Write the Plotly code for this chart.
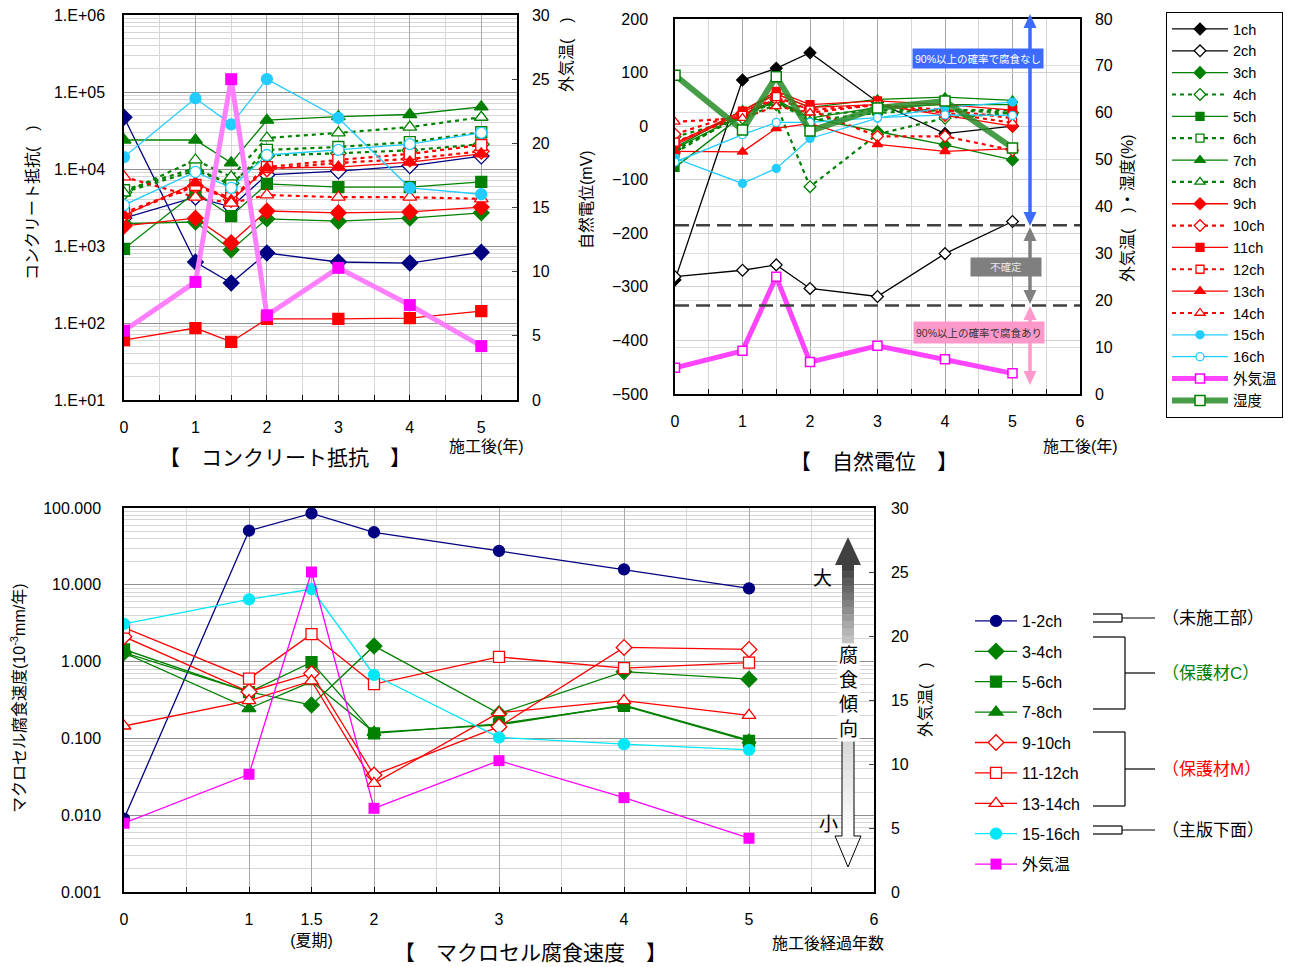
import plotly.graph_objects as go

OFF = 8  # page body margin of the html page
W, H = 1302 - OFF, 967 - OFF
def px(x): return (x - OFF) / W
def py(y): return 1 - (y - OFF) / H

# ---------------- data ----------------
years = [0, 1, 1.5, 2, 3, 4, 5]
ch_names = ["1ch", "2ch", "3ch", "4ch", "5ch", "6ch", "7ch", "8ch",
            "9ch", "10ch", "11ch", "12ch", "13ch", "14ch", "15ch", "16ch"]

# concrete resistance
cr_1ch = [47000, 620, 330, 810, 620, 600, 830]
cr_2ch = [2300, 4300, 3200, 8400, 9400, 11000, 14700]
cr_3ch = [1950, 2050, 890, 2250, 2100, 2300, 2700]
cr_4ch = [5000, 9500, 6500, 15000, 16000, 17500, 21000]
cr_5ch = [920, 5000, 2450, 6400, 5800, 5800, 6800]
cr_6ch = [5300, 10300, 6200, 17700, 19300, 22400, 30000]
cr_7ch = [23800, 23800, 12000, 43000, 48000, 51000, 64000]
cr_8ch = [4900, 13100, 7900, 25300, 29400, 35000, 47000]
cr_9ch = [1820, 2300, 1100, 2850, 2700, 2770, 3200]
cr_10ch = [2600, 6000, 4000, 10000, 12000, 13500, 17000]
cr_11ch = [60, 86, 57, 113, 113, 116, 143]
cr_12ch = [2700, 6200, 4200, 10600, 13100, 15700, 20500]
cr_13ch = [2500, 6600, 3900, 10300, 10600, 12300, 15700]
cr_14ch = [7900, 4300, 3600, 4600, 4300, 4300, 4100]
cr_15ch = [14300, 83000, 38000, 147000, 46000, 5700, 4700]
cr_16ch = [3400, 9150, 5700, 15200, 17700, 21000, 29400]
cr_temp = [5.4, 9.2, 25.0, 6.6, 10.3, 7.4, 4.2]

# half-cell potential (mV)
hp_1ch = [-287, 86, 108, 137, 45, -14, 0]
hp_2ch = [-281, -269, -259, -303, -318, -238, -178]
hp_3ch = [-42, 22, 45, 15, -10, -35, -63]
hp_4ch = [-20, 15, 40, -113, -15, 15, 25]
hp_5ch = [-77, 20, 50, 15, 35, 40, 40]
hp_6ch = [-50, 25, 45, 20, 30, 30, 30]
hp_7ch = [-40, 30, 60, 35, 50, 54, 48]
hp_8ch = [-45, 20, 45, 10, 25, 30, 25]
hp_9ch = [-35, 25, 60, 35, 40, 20, 0]
hp_10ch = [-15, 25, 50, 30, -19, -19, -45]
hp_11ch = [-32, 28, 65, 40, 47, 40, 30]
hp_12ch = [-30, 20, 55, 30, 40, 30, 15]
hp_13ch = [-47, -48, -4, 5, -34, -47, -42]
hp_14ch = [8, 15, 37, 25, 40, 25, 6]
hp_15ch = [-60, -107, -79, -23, 15, 35, 45]
hp_16ch = [-67, -16, 7, 7, 16, 21, 20]
hp_temp = [5.6, 9.2, 25.0, 6.8, 10.3, 7.4, 4.4]
hp_humid = [68, 56.3, 67.7, 56.1, 61, 62.5, 52.5]
hp_thresholds = [-185, -335]

# macrocell corrosion rate (10^-3 mm/year)
mc_names = ["1-2ch", "3-4ch", "5-6ch", "7-8ch", "9-10ch", "11-12ch", "13-14ch", "15-16ch"]
mc_1_2 = [0.009, 50.6, 85, 48.3, 27.6, 15.9, 9.0]
mc_3_4 = [1.31, 0.405, 0.272, 1.60, 0.21, 0.74, 0.59]
mc_5_6 = [1.44, 0.40, 0.98, 0.116, 0.155, 0.265, 0.0925]
mc_7_8 = [1.30, 0.245, 0.55, 0.12, 0.15, 0.27, 0.095]
mc_9_10 = [2.11, 0.405, 0.70, 0.0334, 0.142, 1.53, 1.44]
mc_11_12 = [2.77, 0.60, 2.28, 0.51, 1.15, 0.82, 0.97]
mc_13_14 = [0.145, 0.31, 0.56, 0.026, 0.216, 0.31, 0.20]
mc_15_16 = [3.09, 6.46, 8.8, 0.67, 0.103, 0.084, 0.071]
mc_temp = [5.37, 9.2, 25.0, 6.54, 10.26, 7.37, 4.2]
mc_ticks = [0, 1, 1.5, 2, 3, 4, 5, 6]
mc_ticktext = ["0", "1", "1.5<br>(夏期)", "2", "3", "4", "5", "6"]

# ---------------- styles ----------------
FONT = "Arial, 'Liberation Sans', 'Noto Sans CJK JP', sans-serif"
NAVY, GREEN, RED, CYAN, BLACK = "#000080", "#008000", "#FF0000", "#22CCFF", "#000000"
SYM = ["diamond", "diamond", "diamond", "diamond", "square", "square", "triangle-up", "triangle-up",
       "diamond", "diamond", "square", "square", "triangle-up", "triangle-up", "circle", "circle"]
FILLED = [True, False] * 8
DOTTED = [False, False, False, True, False, True, False, True,
          False, True, False, True, False, True, False, False]
COL_TL = [NAVY, NAVY] + [GREEN] * 6 + [RED] * 6 + [CYAN, CYAN]
COL_TR = [BLACK, BLACK] + [GREEN] * 6 + [RED] * 6 + [CYAN, CYAN]

fig = go.Figure()

def ch_trace(x, y, i, color, xa, ya, size, showlegend):
    sym = SYM[i]
    s = size + (1 if sym in ("diamond", "triangle-up") else 0)
    marker = dict(symbol=sym, size=s, color=color if FILLED[i] else "white",
                  line=dict(color=color, width=1.3))
    if DOTTED[i]:
        line = dict(color=color, width=2.2, dash="4px,4px")
    else:
        line = dict(color=color, width=1.3)
    return go.Scatter(x=x, y=y, mode="lines+markers", name=ch_names[i], marker=marker, line=line,
                      xaxis=xa, yaxis=ya, showlegend=showlegend,
                      legend="legend" if showlegend else None)

# ---- top-left: concrete resistance
cr_series = [cr_1ch, cr_2ch, cr_3ch, cr_4ch, cr_5ch, cr_6ch, cr_7ch, cr_8ch,
             cr_9ch, cr_10ch, cr_11ch, cr_12ch, cr_13ch, cr_14ch, cr_15ch, cr_16ch]
for i, s in enumerate(cr_series):
    fig.add_trace(ch_trace(years, s, i, COL_TL[i], "x", "y", 11, False))
fig.add_trace(go.Scatter(x=years, y=cr_temp, mode="lines+markers", name="外気温",
                         line=dict(color="#FF80FF", width=5),
                         marker=dict(symbol="square", size=12, color="#FF00FF"),
                         xaxis="x", yaxis="y2", showlegend=False))

# ---- top-right: half-cell potential
hp_series = [hp_1ch, hp_2ch, hp_3ch, hp_4ch, hp_5ch, hp_6ch, hp_7ch, hp_8ch,
             hp_9ch, hp_10ch, hp_11ch, hp_12ch, hp_13ch, hp_14ch, hp_15ch, hp_16ch]
for i, s in enumerate(hp_series):
    fig.add_trace(ch_trace(years, s, i, COL_TR[i], "x2", "y3", 8, True))
fig.add_trace(go.Scatter(x=years, y=hp_temp, mode="lines+markers", name="外気温",
                         line=dict(color="#FF44FF", width=5),
                         marker=dict(symbol="square", size=9, color="white",
                                     line=dict(color="#FF00FF", width=1.5)),
                         xaxis="x2", yaxis="y4", legend="legend"))
fig.add_trace(go.Scatter(x=years, y=hp_humid, mode="lines+markers", name="湿度",
                         line=dict(color="rgba(40,140,40,0.85)", width=6),
                         marker=dict(symbol="square", size=10, color="white",
                                     line=dict(color=GREEN, width=1.5)),
                         xaxis="x2", yaxis="y4", legend="legend"))

# ---- bottom: macrocell corrosion rate
mc_series = [mc_1_2, mc_3_4, mc_5_6, mc_7_8, mc_9_10, mc_11_12, mc_13_14, mc_15_16]
MC_COL = [NAVY, GREEN, GREEN, GREEN, RED, RED, RED, "#00E8F8"]
MC_SYM = ["circle", "diamond", "square", "triangle-up", "diamond", "square", "triangle-up", "circle"]
MC_FILL = [True, True, True, True, False, False, False, True]
for i, s in enumerate(mc_series):
    c = MC_COL[i]
    sz = 12 if MC_SYM[i] in ("diamond", "triangle-up") else 11
    fig.add_trace(go.Scatter(x=years, y=s, mode="lines+markers", name=mc_names[i],
                             line=dict(color=c, width=1.3),
                             marker=dict(symbol=MC_SYM[i], size=sz,
                                         color=c if MC_FILL[i] else "white",
                                         line=dict(color=c, width=1.3)),
                             xaxis="x3", yaxis="y5", legend="legend2", legendgroup="m%d" % i))
fig.add_trace(go.Scatter(x=years, y=mc_temp, mode="lines+markers", name="外気温",
                         line=dict(color="#FF00FF", width=1.3),
                         marker=dict(symbol="square", size=11, color="#FF00FF"),
                         xaxis="x3", yaxis="y6", legend="legend2", legendgroup="m8"))

# ---------------- axes ----------------
tickf = dict(family=FONT, size=16, color="#000")
GRID_MAJ = "#a8a8a8"
GRID_MIN = "#d6d6d6"
def xax(domain, rng, anchor, **kw):
    d = dict(domain=domain, range=rng, anchor=anchor, showline=True, linecolor="black",
             linewidth=1.5, mirror=True, ticks="inside", ticklen=5, tickcolor="black",
             tickfont=tickf, showgrid=True, gridcolor=GRID_MAJ, gridwidth=1,
             minor=dict(dtick=0.5, showgrid=True, gridcolor=GRID_MIN, ticks="inside",
                        ticklen=5, tickcolor="black"),
             zeroline=False, ticklabelstandoff=12, ticklabeloverflow="allow")
    d.update(kw)
    return d

def yax(**kw):
    d = dict(tickfont=tickf, showline=True, linecolor="black", linewidth=1.5,
             zeroline=False, ticklabeloverflow="allow")
    d.update(kw)
    return d

layout = dict(
    width=W, height=H, margin=dict(l=0, r=0, t=0, b=0, autoexpand=False),
    paper_bgcolor="white", plot_bgcolor="white",
    font=dict(family=FONT, size=16, color="#000"),
    xaxis=xax([px(124), px(517)], [0, 5.5], "y", tick0=0, dtick=1),
    yaxis=yax(domain=[py(400), py(15)], type="log", range=[1, 6], anchor="x",
              tickvals=[10, 100, 1000, 1e4, 1e5, 1e6],
              ticktext=["1.E+01", "1.E+02", "1.E+03", "1.E+04", "1.E+05", "1.E+06"],
              showgrid=True, gridcolor="#909090",
              minor=dict(dtick="D1", showgrid=True, gridcolor=GRID_MIN),
              ticks="", ticklabelstandoff=14),
    yaxis2=yax(overlaying="y", side="right", range=[0, 30], dtick=5, anchor="x",
               showgrid=False, ticks="inside", ticklen=5, ticklabelstandoff=10),
    xaxis2=xax([px(675), px(1080)], [0, 6], "y3", tick0=0, dtick=1),
    yaxis3=yax(domain=[py(394), py(19)], range=[-500, 200], dtick=100, anchor="x2",
               showgrid=True, gridcolor="#cfcfcf", ticks="", ticklabelstandoff=22),
    yaxis4=yax(overlaying="y3", side="right", range=[0, 80], dtick=10, anchor="x2",
               showgrid=True, gridcolor="#dedede", ticks="", ticklabelstandoff=10),
    xaxis3=xax([px(124), px(874)], [0, 6], "y5", tickmode="array", tickvals=mc_ticks,
               ticktext=mc_ticktext),
    yaxis5=yax(domain=[py(892), py(508)], type="log", range=[-3, 2], anchor="x3",
               tickvals=[0.001, 0.01, 0.1, 1, 10, 100],
               ticktext=["0.001", "0.010", "0.100", "1.000", "10.000", "100.000"],
               showgrid=True, gridcolor="#909090",
               minor=dict(dtick="D1", showgrid=True, gridcolor=GRID_MIN),
               ticks="", ticklabelstandoff=18),
    yaxis6=yax(overlaying="y5", side="right", range=[0, 30], dtick=5, anchor="x3",
               showgrid=False, ticks="inside", ticklen=5, ticklabelstandoff=12),
    legend=dict(x=px(1166), y=py(12), xanchor="left", yanchor="top",
                bgcolor="white", bordercolor="black", borderwidth=1,
                font=dict(family=FONT, size=14.5), itemwidth=56, traceorder="normal",
                itemclick=False),
    legend2=dict(x=px(970), y=py(604), xanchor="left", yanchor="top",
                 bgcolor="rgba(0,0,0,0)", borderwidth=0,
                 font=dict(family=FONT, size=16), itemwidth=42, traceorder="grouped",
                 tracegroupgap=6.6, itemclick=False),
)
fig.update_layout(**layout)

# ---------------- shapes ----------------
shapes = []
for t in hp_thresholds:
    shapes.append(dict(type="line", xref="x2", yref="y3", x0=0, x1=6, y0=t, y1=t,
                       line=dict(color="#404040", width=2.5, dash="14px,7px")))

def pline(x0, y0, x1, y1, color="black", width=1.2):
    return dict(type="line", xref="paper", yref="paper", x0=px(x0), y0=py(y0),
                x1=px(x1), y1=py(y1), line=dict(color=color, width=width))

def ppath(pts, fill, line_color=None, lw=0, close=True):
    d = "M " + " L ".join("%f,%f" % (px(a), py(b)) for a, b in pts) + (" Z" if close else "")
    return dict(type="path", xref="paper", yref="paper", path=d, fillcolor=fill,
                line=dict(color=line_color or fill, width=lw))

def dbl_arrow(x, ytop, ybot, color, w=13, h=14, lw=3.5):
    out = [pline(x, ytop + h - 2, x, ybot - h + 2, color, lw)]
    out.append(ppath([(x - w / 2, ytop + h), (x, ytop), (x + w / 2, ytop + h)], color))
    out.append(ppath([(x - w / 2, ybot - h), (x, ybot), (x + w / 2, ybot - h)], color))
    return out

shapes += dbl_arrow(1030, 14, 226, "#3D6BFF")
shapes += dbl_arrow(1030, 227, 304, "#808080")
shapes += dbl_arrow(1030, 306, 385, "#FF99CC")

# bottom trend arrow
ax_c, sw, hw = 848, 12, 26
shapes.append(ppath([(ax_c - hw / 2, 565), (ax_c, 537), (ax_c + hw / 2, 565)], "#404040"))
n = 12
for k in range(n):
    y0 = 564 + k * (650 - 564) / n
    y1 = 564 + (k + 1) * (650 - 564) / n
    g = int(0x40 + (0xD0 - 0x40) * k / (n - 1))
    col = "#%02x%02x%02x" % (g, g, g)
    shapes.append(dict(type="rect", xref="paper", yref="paper", x0=px(ax_c - sw / 2), x1=px(ax_c + sw / 2),
                       y0=py(y0), y1=py(y1 + 0.5), fillcolor=col, line=dict(width=0)))
for k in range(n):
    y0 = 738 + k * (836 - 738) / n
    y1 = 738 + (k + 1) * (836 - 738) / n
    g = int(0xD8 + (0xFF - 0xD8) * k / (n - 1))
    col = "#%02x%02x%02x" % (g, g, g)
    shapes.append(dict(type="rect", xref="paper", yref="paper", x0=px(ax_c - sw / 2), x1=px(ax_c + sw / 2),
                       y0=py(y0), y1=py(y1 + 0.5), fillcolor=col, line=dict(width=0)))
shapes.append(ppath([(ax_c - sw / 2, 738), (ax_c - sw / 2, 836), (ax_c - hw / 2, 836), (ax_c, 867),
                     (ax_c + hw / 2, 836), (ax_c + sw / 2, 836), (ax_c + sw / 2, 738)],
                    "rgba(0,0,0,0)", "black", 1, close=False))

# brackets in bottom legend
for yc in (618, 830):
    shapes.append(pline(1093, yc - 4, 1122, yc - 4))
    shapes.append(pline(1093, yc + 4, 1122, yc + 4))
    shapes.append(pline(1122, yc - 4, 1122, yc + 4))
    shapes.append(pline(1122, yc, 1155, yc))
for top, bot in ((637, 709), (732, 806)):
    mid = (top + bot) / 2
    shapes.append(pline(1093, top, 1125, top))
    shapes.append(pline(1093, bot, 1125, bot))
    shapes.append(pline(1125, top, 1125, bot))
    shapes.append(pline(1125, mid, 1155, mid))
fig.update_layout(shapes=shapes)

# ---------------- annotations ----------------
ann = []
def txt(x, y, s, size=16, color="#000", angle=0, xanchor="center", **kw):
    d = dict(x=px(x), y=py(y), xref="paper", yref="paper", text=s, showarrow=False,
             font=dict(family=FONT, size=size, color=color), textangle=angle,
             xanchor=xanchor, yanchor="middle")
    d.update(kw)
    ann.append(d)

# top-left
txt(33, 203, "コンクリート抵抗(　)", angle=-90)
txt(566, 55, "外気温(　)", angle=-90)
txt(487, 446, "施工後(年)")
txt(285, 457, "【　コンクリート抵抗　】", size=21)
# top-right
txt(587, 200, "自然電位(mV)", angle=-90)
txt(1128, 208, "外気温(　)・湿度(%)", angle=-90)
txt(1080, 446, "施工後(年)")
txt(874, 461, "【　自然電位　】", size=21)
txt(978, 58, "90%以上の確率で腐食なし", size=10.5, color="white", bgcolor="#3D6BFF",
    width=128, height=17)
txt(1006, 267, "不確定", size=10.5, color="#E8E8E8", bgcolor="#7F7F7F", width=68, height=16)
txt(979, 332, "90%以上の確率で腐食あり", size=10.5, color="#333333", bgcolor="#FF99CC",
    width=128, height=19)
# bottom
txt(18, 698, "マクロセル腐食速度(10<sup>-3</sup>mm/年)", angle=-90)
txt(925, 700, "外気温(　)", angle=-90)
txt(828, 943, "施工後経過年数")
txt(530, 952, "【　マクロセル腐食速度　】", size=21)
txt(822, 578, "大", size=19)
txt(828, 824, "小", size=19)
txt(848, 692, "腐<br>食<br>傾<br>向", size=19, bgcolor="white")
txt(1160, 618, "（未施工部）", size=17, xanchor="left")
txt(1160, 673, "（保護材C）", size=17, color=GREEN, xanchor="left")
txt(1160, 769, "（保護材M）", size=17, color=RED, xanchor="left")
txt(1160, 830, "（主版下面）", size=17, xanchor="left")
fig.update_layout(annotations=ann)

fig.write_html("out.html")
